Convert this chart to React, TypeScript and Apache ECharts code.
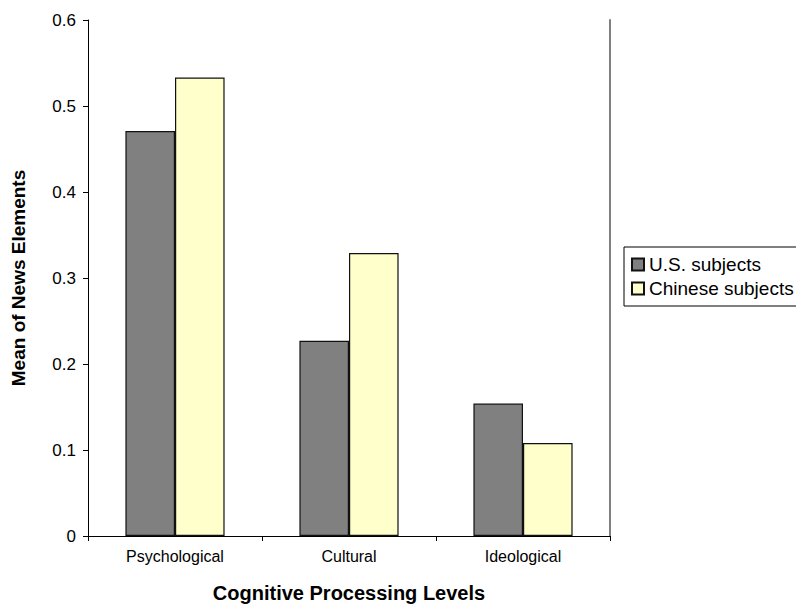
import React, { useEffect, useRef } from "react";
import * as echarts from "echarts";

const categories = ["Psychological", "Cultural", "Ideological"];
const usValues = [0.471, 0.227, 0.154];
const chineseValues = [0.533, 0.329, 0.108];
const seriesNames = ["U.S. subjects", "Chinese subjects"];
const xTitle = "Cognitive Processing Levels";
const yTitle = "Mean of News Elements";

const FONT = "Liberation Sans, Arial, Helvetica, sans-serif";

export default function App() {
  const ref = useRef<HTMLDivElement>(null);
  useEffect(() => {
    if (!ref.current) return;
    const chart = echarts.init(ref.current, null, { renderer: "svg" });
    chart.setOption({
      animation: false,
      backgroundColor: "#ffffff",
      textStyle: { fontFamily: FONT, color: "#000" },
      grid: { left: 88, top: 20, width: 522, height: 516, containLabel: false },
      legend: {
        orient: "vertical",
        left: 624,
        top: 247,
        borderColor: "#000",
        borderWidth: 1,
        padding: [8, 8, 8, 7],
        itemWidth: 12,
        itemHeight: 12,
        itemGap: 5,
        icon: "rect",
        textStyle: { fontSize: 19, fontFamily: FONT, color: "#000" },
        data: seriesNames,
      },
      xAxis: [
        {
          type: "category",
          data: categories,
          position: "bottom",
          axisLine: { lineStyle: { color: "#000", width: 1 } },
          axisTick: { show: true, length: 5, lineStyle: { color: "#000" } },
          axisLabel: { fontSize: 16, color: "#000", fontFamily: FONT, margin: 12 },
          name: xTitle,
          nameLocation: "middle",
          nameGap: 47,
          nameTextStyle: { fontSize: 20, fontWeight: "bold", color: "#000", fontFamily: FONT },
        },
        {
          type: "category",
          data: categories,
          position: "top",
          axisLine: { lineStyle: { color: "#000", width: 1 } },
          axisTick: { show: false },
          axisLabel: { show: false },
        },
      ],
      yAxis: [
        {
          type: "value",
          min: 0,
          max: 0.6,
          interval: 0.1,
          position: "left",
          axisLine: { show: true, lineStyle: { color: "#000", width: 1 } },
          axisTick: { show: true, length: 5, lineStyle: { color: "#000" } },
          splitLine: { show: false },
          axisLabel: {
            fontSize: 17,
            color: "#000",
            fontFamily: FONT,
            margin: 12,
            formatter: (v: number) => String(Math.round(v * 10) / 10),
          },
          name: yTitle,
          nameLocation: "middle",
          nameGap: 60,
          nameTextStyle: { fontSize: 19, fontWeight: "bold", color: "#000", fontFamily: FONT },
        },
        {
          type: "value",
          min: 0,
          max: 0.6,
          interval: 0.1,
          position: "right",
          axisLine: { show: true, lineStyle: { color: "#808080", width: 2 } },
          axisTick: { show: false },
          axisLabel: { show: false },
          splitLine: { show: false },
        },
      ],
      series: [
        {
          name: seriesNames[0],
          type: "bar",
          data: usValues,
          barGap: "0%",
          barCategoryGap: "43%",
          itemStyle: { color: "#808080", borderColor: "#111", borderWidth: 1.2 },
        },
        {
          name: seriesNames[1],
          type: "bar",
          data: chineseValues,
          barGap: "0%",
          barCategoryGap: "43%",
          itemStyle: { color: "#FFFFCC", borderColor: "#111", borderWidth: 1.2 },
        },
      ],
    });
    return () => chart.dispose();
  }, []);
  return (
    <div
      ref={ref}
      style={{ position: "absolute", left: 0, top: 0, width: 796, height: 608 }}
    />
  );
}
